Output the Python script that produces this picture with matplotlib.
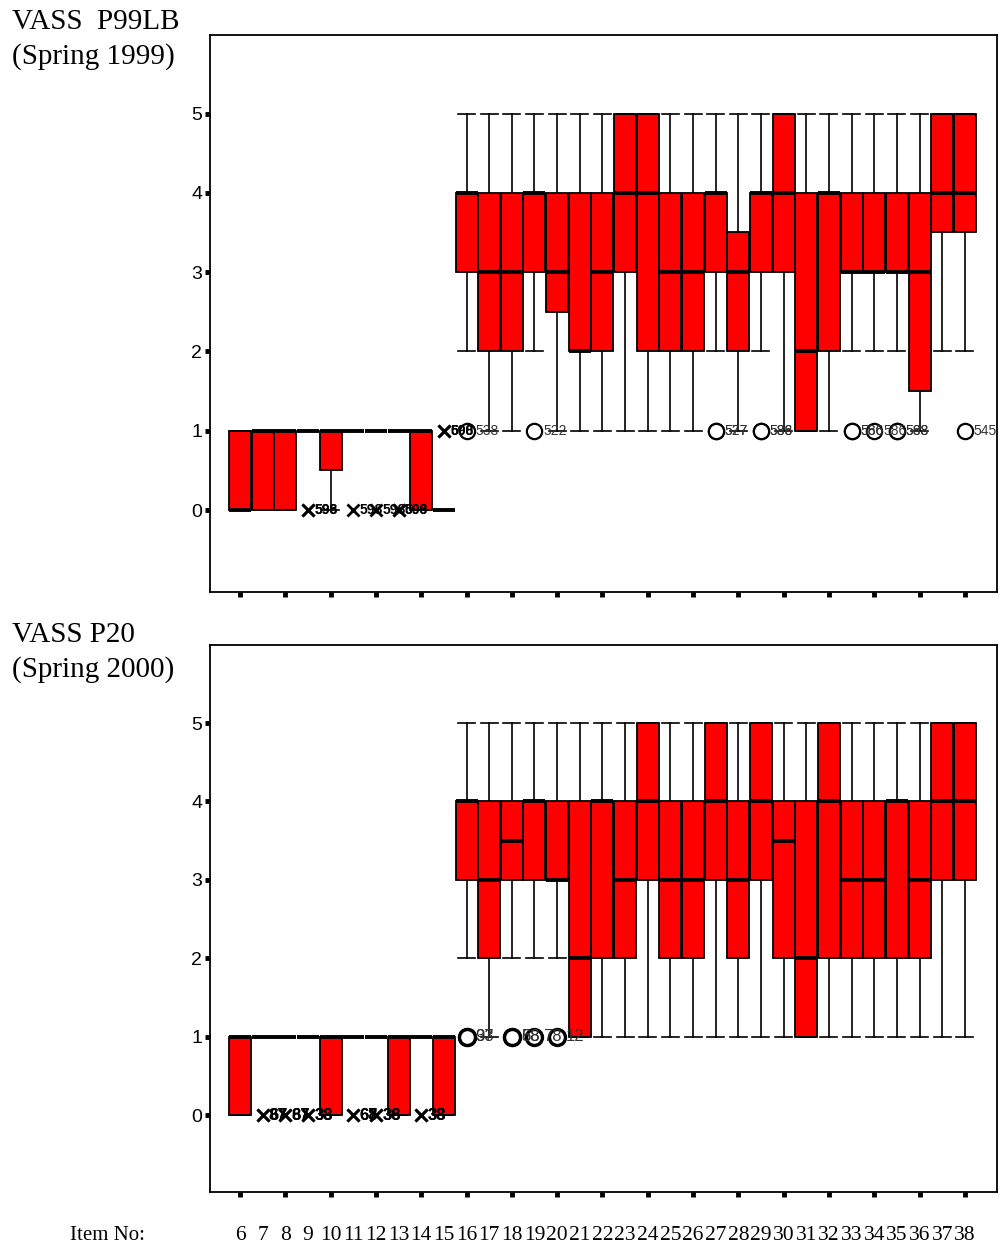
import numpy as np
import matplotlib.pyplot as plt

# Номера заданий (ось X)
items = list(range(6, 39))

# VASS P99LB (весна 1999)
p99_q1 = [0, 0, 0, 1, 0.5, 1, 1, 1, 0, 0,
          3, 2, 2, 3, 2.5, 2, 2, 3, 2, 2, 2, 3, 2, 3, 3, 1, 2, 3, 3, 3, 1.5, 3.5, 3.5]
p99_med = [0, 1, 1, 1, 1, 1, 1, 1, 1, 0,
           4, 3, 3, 4, 3, 2, 3, 4, 4, 3, 3, 4, 3, 4, 4, 2, 4, 3, 3, 3, 3, 4, 4]
p99_q3 = [1, 1, 1, 1, 1, 1, 1, 1, 1, 0,
          4, 4, 4, 4, 4, 4, 4, 5, 5, 4, 4, 4, 3.5, 4, 5, 4, 4, 4, 4, 4, 4, 5, 5]
p99_lo = [0, 0, 0, 1, 0, 1, 1, 1, 0, 0,
          2, 1, 1, 2, 1, 1, 1, 1, 1, 1, 1, 2, 1, 2, 1, 1, 1, 2, 2, 2, 1, 2, 2]
p99_hi = [1, 1, 1, 1, 1, 1, 1, 1, 1, 0,
          5, 5, 5, 5, 5, 5, 5, 5, 5, 5, 5, 5, 5, 5, 5, 5, 5, 5, 5, 5, 5, 5, 5]
p99_out_item = [16, 19, 27, 27, 29, 29, 33, 33, 34, 35, 35, 38]
p99_out_val = [1, 1, 1, 1, 1, 1, 1, 1, 1, 1, 1, 1]
p99_out_lab = ['538', '522', '527', '577', '588', '586', '586', '566', '586', '568', '588', '545']
p99_ext_item = [9, 9, 11, 12, 13, 13, 15, 15]
p99_ext_val = [0, 0, 0, 0, 0, 0, 1, 1]
p99_ext_lab = ['598', '596', '598', '598', '600', '598', '598', '600']

# VASS P20 (весна 2000)
p20_q1 = [0, 1, 1, 1, 0, 1, 1, 0, 1, 0,
          3, 2, 3, 3, 3, 1, 2, 2, 3, 2, 2, 3, 2, 3, 2, 1, 2, 2, 2, 2, 2, 3, 3]
p20_med = [1, 1, 1, 1, 1, 1, 1, 1, 1, 1,
           4, 3, 3.5, 4, 3, 2, 4, 3, 4, 3, 3, 4, 3, 4, 3.5, 2, 4, 3, 3, 4, 3, 4, 4]
p20_q3 = [1, 1, 1, 1, 1, 1, 1, 1, 1, 1,
          4, 4, 4, 4, 4, 4, 4, 4, 5, 4, 4, 5, 4, 5, 4, 4, 5, 4, 4, 4, 4, 5, 5]
p20_lo = [0, 1, 1, 1, 0, 1, 1, 0, 1, 0,
          2, 1, 2, 2, 2, 1, 1, 1, 1, 1, 1, 1, 1, 1, 1, 1, 1, 1, 1, 1, 1, 1, 1]
p20_hi = [1, 1, 1, 1, 1, 1, 1, 1, 1, 1,
          5, 5, 5, 5, 5, 5, 5, 5, 5, 5, 5, 5, 5, 5, 5, 5, 5, 5, 5, 5, 5, 5, 5]
p20_out_item = [16, 16, 18, 18, 19, 20]
p20_out_val = [1, 1, 1, 1, 1, 1]
p20_out_lab = ['93', '37', '58', '68', '78', '12']
p20_ext_item = [7, 7, 8, 8, 9, 9, 11, 11, 12, 12, 14, 14]
p20_ext_val = [0, 0, 0, 0, 0, 0, 0, 0, 0, 0, 0, 0]
p20_ext_lab = ['67', '87', '67', '87', '33', '38', '67', '68', '36', '38', '33', '38']

W, H = 1000, 1247
fig = plt.figure(figsize=(W / 100, H / 100), dpi=100)


def panel(top, bot, ymin, ymax, q1, med, q3, lo, hi,
          out_i, out_v, out_l, ext_i, ext_v, ext_l, lab_size, ms, mew):
    ax = fig.add_axes([0.21, 1 - bot / H, 0.787, (bot - top) / H])
    stats = []
    for k in range(len(items)):
        stats.append(dict(med=med[k], q1=q1[k], q3=q3[k],
                          whislo=lo[k], whishi=hi[k], fliers=[]))
    ax.bxp(stats, positions=items, widths=0.97, capwidths=0.75,
           patch_artist=True, showfliers=False,
           boxprops=dict(facecolor='#ff0000', edgecolor='black', linewidth=1.3),
           medianprops=dict(color='black', linewidth=2.8),
           whiskerprops=dict(color='black', linewidth=1.2),
           capprops=dict(color='black', linewidth=1.2))

    # выбросы (кружки) и экстремальные значения (крестики)
    ax.plot(out_i, out_v, 'o', ms=ms, mfc='white', mec='black', mew=mew, zorder=4)
    ax.plot(ext_i, ext_v, 'x', ms=8.5, mec='black', mew=2, zorder=4)
    for x, y, s in zip(out_i, out_v, out_l):
        ax.annotate(s, (x, y), xytext=(ms / 2 + 0.8, 0), textcoords='offset points',
                    va='center', ha='left', fontsize=lab_size, color='#333333',
                    family='Liberation Sans', zorder=5)
    for x, y, s in zip(ext_i, ext_v, ext_l):
        ax.annotate(s, (x, y), xytext=(4.5, 0), textcoords='offset points',
                    va='center', ha='left', fontsize=lab_size, fontweight='bold',
                    family='Liberation Sans', zorder=5)

    ax.set_xlim(4.675, 39.42)
    ax.set_ylim(ymin, ymax)
    ax.set_xticks(items[::2])
    ax.set_xticklabels([])
    ax.set_yticks([0, 1, 2, 3, 4, 5])
    ax.set_yticklabels(['0', '1', '2', '3', '4', '5'], family='Liberation Sans', fontsize=14)
    ax.tick_params(direction='out', length=3.5, width=3.5, pad=2)
    for sp in ax.spines.values():
        sp.set_linewidth(1.3)
    return ax


ax1 = panel(35, 592, -1.034, 5.99, p99_q1, p99_med, p99_q3, p99_lo, p99_hi,
            p99_out_item, p99_out_val, p99_out_lab,
            p99_ext_item, p99_ext_val, p99_ext_lab, 10, 11, 1.6)
ax2 = panel(645, 1192, -0.982, 5.995, p20_q1, p20_med, p20_q3, p20_lo, p20_hi,
            p20_out_item, p20_out_val, p20_out_lab,
            p20_ext_item, p20_ext_val, p20_ext_lab, 12, 11.5, 2.4)

# Заголовки панелей
serif = 'Liberation Serif'
fig.text(12 / W, 1 - 29 / H, 'VASS  P99LB', family=serif, fontsize=21, va='baseline')
fig.text(12 / W, 1 - 64 / H, '(Spring 1999)', family=serif, fontsize=21, va='baseline')
fig.text(12 / W, 1 - 642 / H, 'VASS P20', family=serif, fontsize=21, va='baseline')
fig.text(12 / W, 1 - 677 / H, '(Spring 2000)', family=serif, fontsize=21, va='baseline')

# Подписи номеров заданий
fig.text(70 / W, 1 - 1240 / H, 'Item No:', family=serif, fontsize=15, va='baseline')
for it in items:
    ax2.text(it, -(1240 - 1192) / 547, str(it), transform=ax2.get_xaxis_transform(),
             ha='center', va='baseline', family=serif, fontsize=15.5)

plt.savefig('out.png', dpi=100)
